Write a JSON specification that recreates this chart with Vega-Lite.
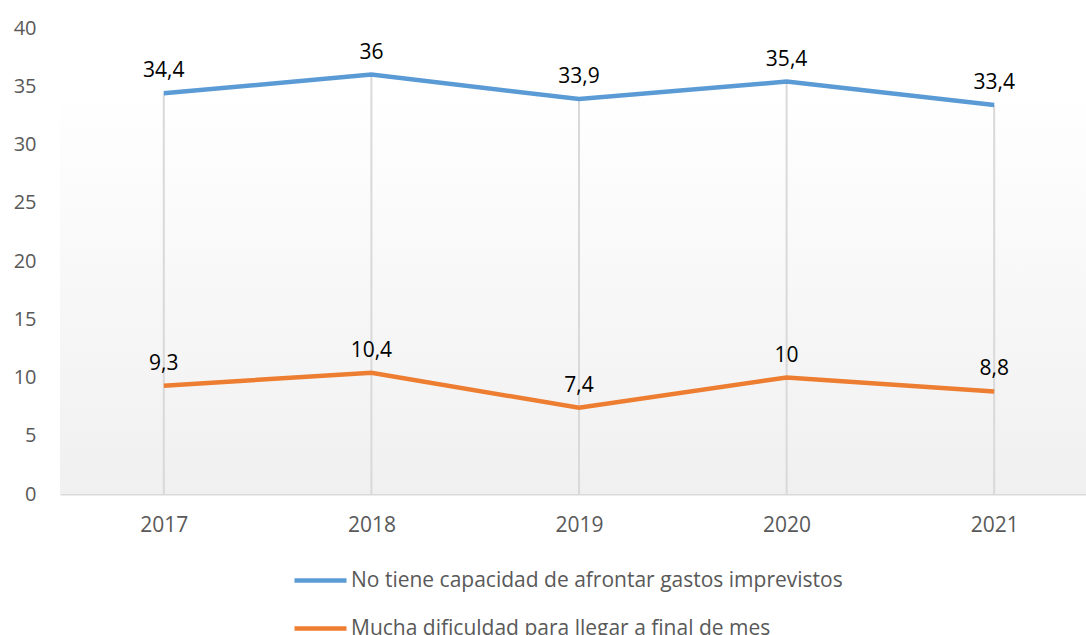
{
  "$schema": "https://vega.github.io/schema/vega-lite/v6.json",
  "autosize": "none",
  "width": 1038,
  "height": 466,
  "padding": {"left": 60, "top": 28, "right": 0, "bottom": 141},
  "background": "#ffffff",
  "config": {
    "view": {"stroke": null},
    "font": "Open Sans",
    "locale": {"number": {"decimal": ",", "thousands": ".", "grouping": [3], "currency": ["", " €"]}}
  },
  "data": {
    "values": [
      {"year": "2017", "serie": "No tiene capacidad de afrontar gastos imprevistos", "valor": 34.4},
      {"year": "2018", "serie": "No tiene capacidad de afrontar gastos imprevistos", "valor": 36},
      {"year": "2019", "serie": "No tiene capacidad de afrontar gastos imprevistos", "valor": 33.9},
      {"year": "2020", "serie": "No tiene capacidad de afrontar gastos imprevistos", "valor": 35.4},
      {"year": "2021", "serie": "No tiene capacidad de afrontar gastos imprevistos", "valor": 33.4},
      {"year": "2017", "serie": "Mucha dificuldad para llegar a final de mes", "valor": 9.3},
      {"year": "2018", "serie": "Mucha dificuldad para llegar a final de mes", "valor": 10.4},
      {"year": "2019", "serie": "Mucha dificuldad para llegar a final de mes", "valor": 7.4},
      {"year": "2020", "serie": "Mucha dificuldad para llegar a final de mes", "valor": 10},
      {"year": "2021", "serie": "Mucha dificuldad para llegar a final de mes", "valor": 8.8}
    ]
  },
  "encoding": {
    "x": {
      "field": "year", "type": "ordinal",
      "scale": {"type": "point", "padding": 0.5},
      "axis": {
        "title": null, "labelAngle": 0, "labelFontSize": 21, "labelColor": "#595959",
        "ticks": false, "domainColor": "#d9d9d9", "domainWidth": 2, "labelPadding": 20, "grid": false
      }
    },
    "y": {
      "field": "valor", "type": "quantitative",
      "scale": {"domain": [0, 40]},
      "axis": {
        "title": null, "values": [0, 5, 10, 15, 20, 25, 30, 35, 40], "labelFontSize": 20,
        "labelColor": "#595959", "ticks": false, "domain": false, "grid": false, "labelPadding": 24
      }
    }
  },
  "layer": [
    {
      "mark": {
        "type": "rect",
        "fill": {
          "gradient": "linear", "x1": 0, "y1": 0, "x2": 0, "y2": 1,
          "stops": [{"offset": 0, "color": "#ffffff"}, {"offset": 1, "color": "#f0f0f0"}]
        }
      },
      "encoding": {"x": null, "y": {"datum": 35}, "y2": {"datum": 0}}
    },
    {
      "transform": [{"filter": "datum.serie === 'No tiene capacidad de afrontar gastos imprevistos'"}],
      "mark": {"type": "rule", "color": "#d9d9d9", "strokeWidth": 2},
      "encoding": {"y": {"datum": 0}, "y2": {"field": "valor"}}
    },
    {
      "mark": {"type": "line", "strokeWidth": 4.5},
      "encoding": {
        "color": {
          "field": "serie", "type": "nominal",
          "scale": {
            "domain": ["No tiene capacidad de afrontar gastos imprevistos", "Mucha dificuldad para llegar a final de mes"],
            "range": ["#5b9bd5", "#ed7d31"]
          },
          "legend": {
            "title": null, "orient": "none", "legendX": 232, "legendY": 524,
            "direction": "vertical", "symbolType": "stroke", "symbolSize": 2704,
            "symbolStrokeWidth": 4.5, "labelFontSize": 21, "labelColor": "#595959",
            "labelOffset": 2, "rowPadding": 9, "labelLimit": 800
          }
        }
      }
    },
    {
      "mark": {"type": "text", "fontSize": 21, "color": "#000000", "baseline": "bottom", "dy": -12},
      "encoding": {"text": {"field": "valor", "type": "quantitative", "format": ".3~r"}}
    }
  ]
}
